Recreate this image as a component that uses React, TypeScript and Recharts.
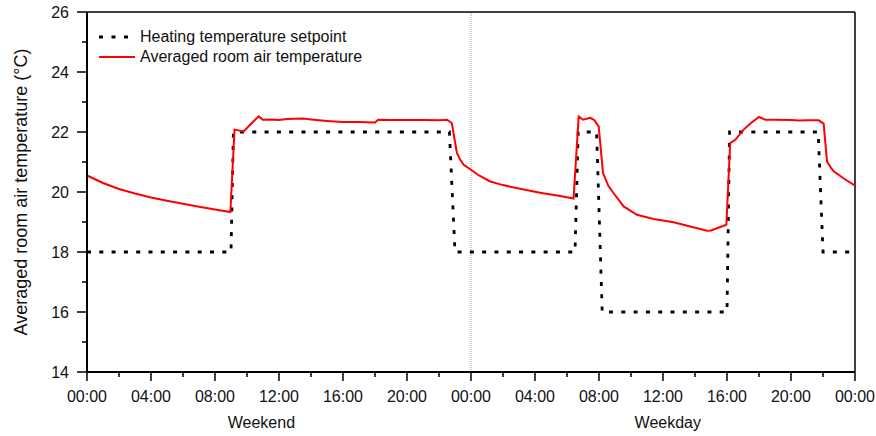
import React from 'react';
import { LineChart, Line, XAxis, YAxis, ReferenceLine } from 'recharts';

const FONT = "'Liberation Sans', Arial, sans-serif";

// setpoint steps (hour of the 48 h window, °C)
const setpointHours = [0, 9.0, 9.15, 22.65, 23.0, 30.5, 30.7, 31.85, 32.2, 40.0, 40.16, 45.7, 46.0, 48];
const setpointTemps = [18, 18, 22, 22, 18, 18, 22, 22, 16, 16, 22, 22, 18, 18];

// averaged room air temperature
const roomHours = [
  0, 1, 2, 3, 4, 5, 6, 7, 8, 8.96,
  9.22, 9.79, 10.3, 10.73, 10.98, 11.5, 12, 12.5, 13.5, 14, 15, 16, 17, 18.0, 18.2,
  19, 20, 21, 22, 22.5, 22.8, 23.12, 23.3, 23.54,
  24, 24.5, 25.2, 26, 27.3, 28.4, 29.4, 30.41,
  30.73, 31.0, 31.46, 31.7, 31.98, 32.25, 32.6, 33.0, 33.54, 34.37, 35.41, 36.66, 37.7, 38.75, 39.0, 39.96,
  40.2, 40.52, 41.04, 41.5, 42.0, 42.4, 43, 44, 44.5, 45, 45.73, 46.04, 46.25, 46.5, 46.67, 47.3, 48,
];
const roomTemps = [
  20.55, 20.3, 20.1, 19.95, 19.82, 19.71, 19.61, 19.51, 19.42, 19.33,
  22.08, 22.02, 22.3, 22.52, 22.41, 22.42, 22.4, 22.43, 22.45, 22.42, 22.37, 22.33, 22.33, 22.32, 22.41,
  22.4, 22.4, 22.4, 22.39, 22.41, 22.3, 21.3, 21.1, 20.91,
  20.74, 20.55, 20.35, 20.23, 20.08, 19.97, 19.88, 19.78,
  22.52, 22.41, 22.47, 22.4, 22.19, 20.63, 20.19, 19.9, 19.52, 19.24, 19.1, 18.99, 18.85, 18.71, 18.72, 18.91,
  21.63, 21.74, 22.08, 22.3, 22.5, 22.41, 22.41, 22.4, 22.38, 22.39, 22.39, 22.28, 21.02, 20.8, 20.69, 20.45, 20.21,
];

const xTicks = [0, 2, 4, 6, 8, 10, 12, 14, 16, 18, 20, 22, 24, 26, 28, 30, 32, 34, 36, 38, 40, 42, 44, 46, 48];
const yTicks = [14, 15, 16, 17, 18, 19, 20, 21, 22, 23, 24, 25, 26];
const dayLabels = ['Weekend', 'Weekday'];
const dayLabelHours = [10.9, 36.3];
const X_MAX = 48;

const setpointData = setpointHours.map((h, i) => ({ h, t: setpointTemps[i] }));
const roomData = roomHours.map((h, i) => ({ h, t: roomTemps[i] }));

const XTick = (props: any) => {
  const { x, y, payload } = props;
  const v = payload.value;
  const major = v % 4 === 0;
  const txt = String(v % 24).padStart(2, '0') + ':00';
  return (
    <g>
      <line x1={x} x2={x} y1={y} y2={y + (major ? 9 : 5)} stroke="#000" strokeWidth={1.5} />
      {major && (
        <text x={x} y={y + 30} textAnchor="middle" fontSize={16} fill="#111" fontFamily={FONT}>
          {txt}
        </text>
      )}
    </g>
  );
};

const YTick = (props: any) => {
  const { x, y, payload } = props;
  const v = payload.value;
  const major = v % 2 === 0;
  return (
    <g>
      <line x1={x - (major ? 10 : 5)} x2={x} y1={y} y2={y} stroke="#000" strokeWidth={1.5} />
      {major && (
        <text x={x - 18} y={y + 5.5} textAnchor="end" fontSize={16} fill="#111" fontFamily={FONT}>
          {v}
        </text>
      )}
    </g>
  );
};

// "Weekend" / "Weekday" under the hour ticks
const dayLabel = (props: any) => {
  const vb = props.viewBox;
  return (
    <g>
      {dayLabels.map((d, i) => (
        <text
          key={d}
          x={vb.x + (vb.width * dayLabelHours[i]) / X_MAX}
          y={vb.y + 56}
          textAnchor="middle"
          fontSize={16}
          fill="#111"
          fontFamily={FONT}
        >
          {d}
        </text>
      ))}
    </g>
  );
};

const yLabel = (props: any) => {
  const vb = props.viewBox;
  return (
    <text
      transform={`translate(20.5, ${vb.y + vb.height / 2}) rotate(-90)`}
      textAnchor="middle"
      dominantBaseline="central"
      fontSize={18}
      fill="#111"
      fontFamily={FONT}
    >
      Averaged room air temperature (°C)
    </text>
  );
};

export default function App() {
  return (
    <div style={{ position: 'absolute', left: 0, top: 0, width: 876, height: 436, fontFamily: FONT }}>
      <LineChart
        width={876}
        height={436}
        margin={{ top: 12, right: 21, bottom: 4, left: 0 }}
        style={{ overflow: 'visible' }}
      >
        <XAxis
          dataKey="h"
          type="number"
          domain={[0, X_MAX]}
          ticks={xTicks}
          interval={0}
          tickSize={0}
          tickMargin={0}
          tick={<XTick />}
          tickLine={false}
          axisLine={{ stroke: '#000', strokeWidth: 2 }}
          height={60}
          label={dayLabel}
        />
        <YAxis
          type="number"
          domain={[14, 26]}
          ticks={yTicks}
          interval={0}
          tickSize={0}
          tickMargin={0}
          tick={<YTick />}
          tickLine={false}
          axisLine={{ stroke: '#000', strokeWidth: 2 }}
          width={87}
          label={yLabel}
        />
        {/* frame: top and right edges */}
        <ReferenceLine y={26} stroke="#000" strokeWidth={1.5} />
        <ReferenceLine x={X_MAX} stroke="#000" strokeWidth={1.5} />
        <ReferenceLine x={24} stroke="#999" strokeDasharray="1 1" strokeWidth={1} />
        <Line
          data={setpointData}
          dataKey="t"
          type="linear"
          stroke="#000"
          strokeWidth={2.8}
          strokeDasharray="4 8.3"
          dot={false}
          isAnimationActive={false}
        />
        <Line
          data={roomData}
          dataKey="t"
          type="linear"
          stroke="#ff0000"
          strokeWidth={2}
          dot={false}
          isAnimationActive={false}
        />
      </LineChart>
      <div style={{ position: 'absolute', left: 99, top: 27, fontSize: 16, color: '#111', lineHeight: '20px' }}>
        <div style={{ display: 'flex', alignItems: 'center', height: 20 }}>
          <svg width={36} height={20} style={{ display: 'block' }}>
            <line x1={0} x2={36} y1={10} y2={10} stroke="#000" strokeWidth={2.8} strokeDasharray="4 8.5" />
          </svg>
          <span style={{ marginLeft: 5, whiteSpace: 'nowrap' }}>Heating temperature setpoint</span>
        </div>
        <div style={{ display: 'flex', alignItems: 'center', height: 20 }}>
          <svg width={36} height={20} style={{ display: 'block' }}>
            <line x1={0} x2={36} y1={10} y2={10} stroke="#ff0000" strokeWidth={2} />
          </svg>
          <span style={{ marginLeft: 5, whiteSpace: 'nowrap' }}>Averaged room air temperature</span>
        </div>
      </div>
    </div>
  );
}
